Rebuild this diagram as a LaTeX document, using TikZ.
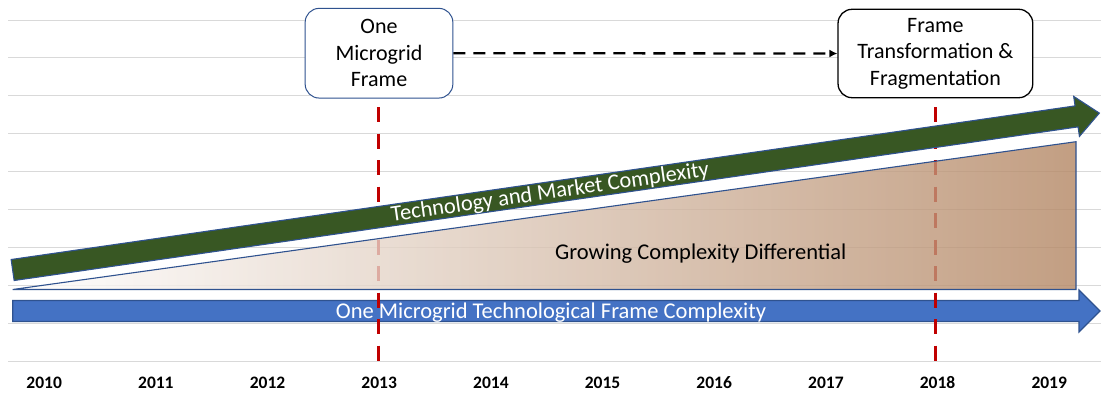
\documentclass[tikz,border=0pt]{standalone}
\usepackage{fontspec}
\setmainfont{Carlito}
\usetikzlibrary{arrows.meta}
\definecolor{gridgray}{RGB}{217,217,217}
\definecolor{darkred}{RGB}{192,0,0}
\definecolor{olivegreen}{RGB}{56,87,35}
\definecolor{edgeblue}{RGB}{47,82,143}
\definecolor{fillblue}{RGB}{68,114,196}
\definecolor{brownfill}{RGB}{180,135,100}
\begin{document}
\begin{tikzpicture}[x=1pt,y=-1pt,
  gridline/.style={gridgray, line width=1pt},
  redline/.style={darkred, line width=3pt, dash pattern=on 15pt off 11.5pt},
  yearlabel/.style={font=\fontsize{17.5}{20}\selectfont\bfseries, anchor=base, inner sep=0pt},
  bigtext/.style={font=\fontsize{22.5}{26.5}\selectfont, inner sep=0pt},
  framebox/.style={rounded corners=14pt, align=center, font=\fontsize{22}{26.5}\selectfont, inner sep=0pt, fill=white},
  arrowshape/.style={draw=edgeblue, line width=1.1pt},
]
\useasboundingbox[fill=white] (0,0) rectangle (1101,394);
% grid
\foreach \k in {0,...,9} \draw[gridline] (8,{20+37.9*\k}) -- (1101,{20+37.9*\k});
% blue arrow
\draw[arrowshape, fill=fillblue] (12.7,300.5) -- (1079,300.5) -- (1079,290) -- (1100,311) -- (1079,332) -- (1079,321.5) -- (12.7,321.5) -- cycle;
% red dashed year markers
\draw[redline] (378.3,107) -- (378.3,362);
\draw[redline] (935.7,107) -- (935.7,362);
% triangle
\shadedraw[left color=white, right color=brownfill, fill opacity=0.8, draw=edgeblue, line width=1.1pt] (12.7,289.5) -- (1076,141.7) -- (1076,289.5) -- cycle;
% green arrow
\begin{scope}[shift={(12.65,270)}, rotate=8.217]
\draw[arrowshape, fill=olivegreen] (0,-10.6) -- (1075,-10.6) -- (1075,-20.2) -- (1098,0) -- (1075,20.2) -- (1075,10.6) -- (0,10.6) -- cycle;
\node[bigtext, white, anchor=base, transform shape] (greentext) at (543,6.5) {Technology and Market Complexity};
\end{scope}
% texts
\node[bigtext, white, anchor=base] (bluetext) at (551,318.7) {One Microgrid Technological Frame Complexity};
\node[bigtext, anchor=base] (growtext) at (700.8,259.3) {Growing Complexity Differential};
% boxes
\node[framebox, draw=edgeblue, line width=1pt, minimum width=147.7pt, minimum height=89.7pt] (oneframe) at (379,53.2) {One\\Microgrid\\Frame};
\node[framebox, draw=black, line width=1.3pt, minimum width=194.7pt, minimum height=88.4pt] (transform) at (935.4,53.5) {Frame\\Transformation \&\\Fragmentation};
\draw[-{Latex[length=8pt,width=8pt]}, line width=2.3pt, dash pattern=on 12pt off 8pt] (oneframe.east) -- (transform.west);
% years
\foreach \yr [count=\i from 0] in {2010,2011,2012,2013,2014,2015,2016,2017,2018,2019}
  \node[yearlabel] (y\yr) at ({44.2+111.67*\i},388.3) {\yr};
\end{tikzpicture}
\end{document}
